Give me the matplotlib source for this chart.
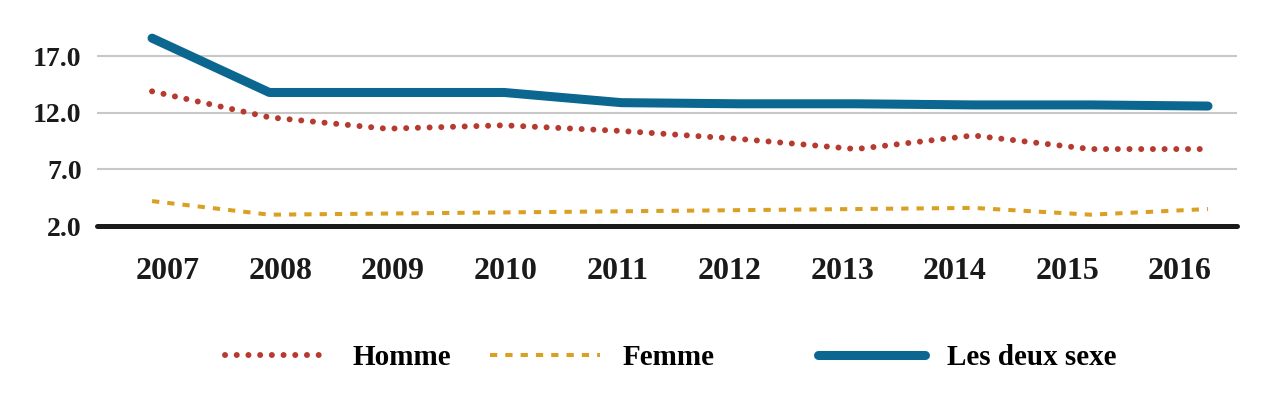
import matplotlib
matplotlib.use("Agg")
import matplotlib.pyplot as plt
import numpy as np

# données
annees = ['2007', '2008', '2009', '2010', '2011', '2012', '2013', '2014', '2015', '2016']
homme = [13.9, 11.6, 10.6, 10.9, 10.4, 9.7, 8.8, 10.0, 8.8, 8.8]
femme = [4.2, 3.0, 3.1, 3.2, 3.3, 3.4, 3.5, 3.6, 3.0, 3.5]
deux_sexes = [18.6, 13.8, 13.8, 13.8, 12.9, 12.8, 12.8, 12.7, 12.7, 12.6]
y_ticks = [2.0, 7.0, 12.0, 17.0]

plt.rcParams['font.family'] = ['Liberation Serif', 'DejaVu Serif']
plt.rcParams['font.weight'] = 'bold'

c_homme = '#b63a30'
c_femme = '#d9a023'
c_deux = '#0b6790'

fig = plt.figure(figsize=(12.8, 4.03), dpi=100)
ax = fig.add_axes([0.0758, 0.4392, 0.8906, 0.5335])

x = np.arange(len(annees))

# grille
for v in y_ticks[1:]:
    ax.axhline(v, color='#c8c8c8', lw=1.5, zorder=1)

l_homme, = ax.plot(x, homme, color=c_homme, lw=4.3, linestyle=(0, (0.01, 1.95)),
                   dash_capstyle='round', solid_capstyle='round', zorder=3, label='Homme')
l_femme, = ax.plot(x, femme, color=c_femme, lw=2.9, linestyle=(0, (1.8, 2.0)),
                   zorder=3, label='Femme')
l_deux, = ax.plot(x, deux_sexes, color=c_deux, lw=6.5, solid_capstyle='round',
                  solid_joinstyle='round', zorder=4, label='Les deux sexe')

ax.set_xlim(-0.469, 9.247)
ax.set_ylim(2, 21)

for s in ['top', 'right', 'left']:
    ax.spines[s].set_visible(False)
ax.spines['bottom'].set_color('#1a1a1a')
ax.spines['bottom'].set_linewidth(3.6)
ax.spines['bottom'].set_capstyle('round')
ax.spines['bottom'].set_zorder(5)

ax.set_yticks(y_ticks)
ax.set_yticklabels([f'{v:.1f}' for v in y_ticks], fontsize=20)
# positions des étiquettes d'années (décalées comme dans l'original)
pos_annees = [(16 + 112.4 * i) / 117.33 for i in range(len(annees))]
ax.set_xticks(pos_annees)
ax.set_xticklabels(annees, fontsize=23)
ax.tick_params(axis='both', length=0, colors='#1a1a1a')
ax.tick_params(axis='y', pad=11)
ax.tick_params(axis='x', pad=22)

# légende en trois morceaux
for h, xa, hl in [(l_homme, 0.176, 3.6), (l_femme, 0.383, 3.77), (l_deux, 0.639, 3.66)]:
    fig.legend(handles=[h], loc='center left', bbox_to_anchor=(xa, 0.112),
               frameon=False, fontsize=21, handlelength=hl, handletextpad=0.75,
               borderpad=0, borderaxespad=0)

fig.savefig('out.png', dpi=100)
